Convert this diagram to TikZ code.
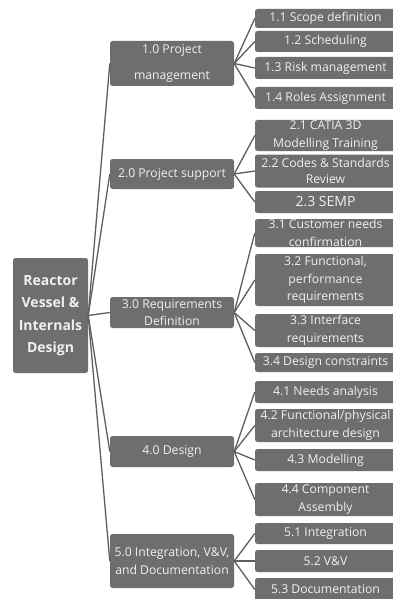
\documentclass[tikz,border=0pt]{standalone}
\usepackage{fontspec}
\setmainfont{Open Sans}
\definecolor{boxgray}{HTML}{6E6E6E}
\definecolor{txtgray}{HTML}{F0F0F0}
\definecolor{linegray}{HTML}{5E5E5E}
\tikzset{
  basebox/.style={fill=boxgray, text=txtgray, rounded corners=2.5pt, inner sep=0pt, align=center},
  rootbox/.style={basebox, minimum width=75pt, font=\fontsize{14}{22.5}\selectfont\bfseries},
  lonebox/.style={basebox, minimum width=124pt},
  ltwobox/.style={basebox, minimum width=141pt},
  fs/.style={font=\fontsize{12.2}{#1}\selectfont},
  conn/.style={draw=linegray, line width=1.3pt},
}
\begin{document}
\begin{tikzpicture}[x=1pt,y=-1pt]
\useasboundingbox (0,0) rectangle (392,599);
\fill[white] (0,0) rectangle (392,599);
% root
\node[rootbox, minimum height=115pt] (root) at (50.5,315.5) {Reactor\\Vessel \&\\Internals\\Design};
% level 1
\node[lonebox, minimum height=45pt, fs=26] (a) at (172,63.5) {1.0 Project\\management};
\node[lonebox, minimum height=30pt, fs=17] (b) at (172,174) {2.0 Project support};
\node[lonebox, minimum height=31pt, fs=17] (c) at (172,312.5) {3.0 Requirements\\Definition};
\node[lonebox, minimum height=31pt, fs=17] (d) at (172,451.5) {4.0 Design};
\node[lonebox, minimum height=54pt, fs=18] (e) at (172,561) {5.0 Integration, V\&V,\\and Documentation};
% level 2
\node[ltwobox, minimum height=19pt, fs=17] (a1) at (325.5,18.5) {1.1 Scope definition};
\node[ltwobox, minimum height=21pt, fs=17] (a2) at (325.5,41.5) {1.2 Scheduling};
\node[ltwobox, minimum height=22pt, fs=17] (a3) at (325.5,68) {1.3 Risk management};
\node[ltwobox, minimum height=22pt, fs=17] (a4) at (325.5,98) {1.4 Roles Assignment};
\node[ltwobox, minimum height=31pt, fs=18.5] (b1) at (325.5,135.5) {2.1 CATIA 3D\\Modelling Training};
\node[ltwobox, minimum height=33pt, fs=16] (b2) at (325.5,171) {2.2 Codes \& Standards\\Review};
\node[ltwobox, minimum height=22pt, font=\fontsize{14}{16}\selectfont] (b3) at (325.5,202) {2.3 SEMP};
\node[ltwobox, minimum height=28pt, fs=18.5] (c1) at (325.5,233) {3.1 Customer needs\\confirmation};
\node[ltwobox, minimum height=52pt, fs=17.5] (c2) at (325.5,280) {3.2 Functional,\\performance\\requirements};
\node[ltwobox, minimum height=33pt, fs=18] (c3) at (325.5,330.5) {3.3 Interface\\requirements};
\node[ltwobox, minimum height=19pt, fs=17] (c4) at (325.5,362.5) {3.4 Design constraints};
\node[ltwobox, minimum height=22pt, fs=17] (d1) at (325.5,392) {4.1 Needs analysis};
\node[ltwobox, minimum height=33pt, fs=18.5] (d2) at (325.5,425.5) {4.2 Functional/physical\\architecture design};
\node[ltwobox, minimum height=22pt, fs=17] (d3) at (325.5,460) {4.3 Modelling};
\node[ltwobox, minimum height=33pt, fs=18] (d4) at (325.5,499.5) {4.4 Component\\Assembly};
\node[ltwobox, minimum height=21pt, fs=17] (e1) at (325.5,533.5) {5.1 Integration};
\node[ltwobox, minimum height=22pt, fs=17] (e2) at (325.5,561) {5.2 V\&V};
\node[ltwobox, minimum height=23pt, fs=17] (e3) at (325.5,589.5) {5.3 Documentation};
% connectors
\foreach \n in {a,b,c,d,e} \draw[conn] (root.east) -- (\n.west);
\foreach \n in {a1,a2,a3,a4} \draw[conn] (a.east) -- (\n.west);
\foreach \n in {b1,b2,b3} \draw[conn] (b.east) -- (\n.west);
\foreach \n in {c1,c2,c3,c4} \draw[conn] (c.east) -- (\n.west);
\foreach \n in {d1,d2,d3,d4} \draw[conn] (d.east) -- (\n.west);
\foreach \n in {e1,e2,e3} \draw[conn] (e.east) -- (\n.west);
\end{tikzpicture}
\end{document}
